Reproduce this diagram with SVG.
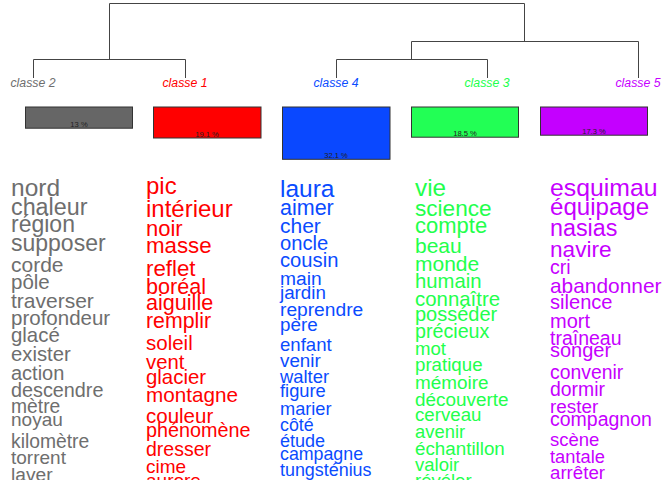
<svg xmlns="http://www.w3.org/2000/svg" width="672" height="480" viewBox="0 0 672 480">
<style>
text{font-family:"Liberation Sans",Arial,sans-serif}
.lbl{font-size:12.3px;font-style:italic;text-anchor:middle}
.pct{font-size:7.6px;text-anchor:middle;fill:#222}
.box{stroke:#333;stroke-width:1}
.c2{fill:#6e6e6e}.c1{fill:#ff0000}.c4{fill:#0a4bff}.c3{fill:#22ff4c}.c5{fill:#c600ff}
.tree{fill:none;stroke:#444;stroke-width:1}
</style>
<rect width="672" height="480" fill="#fff"/>
<g id="connectors" class="tree">
<path d="M33.5 78V59.5H185.5V78"/>
<path d="M109.5 59.5V3.5H524.5V41.5"/>
<path d="M336.5 78V59.5H487.5V78"/>
<path d="M411.5 59.5V41.5H638.5V78"/>
</g>
<g id="classe2">
<text class="lbl c2" x="33" y="87">classe  2</text>
<rect class="box" x="25.5" y="107" width="107" height="21.2" fill="#666"/>
<text class="pct" x="79" y="126.5">13 %</text>
<g class="c2">
<text x="11" y="196" font-size="24.5">nord</text>
<text x="11" y="215" font-size="23.3">chaleur</text>
<text x="11" y="232" font-size="23">région</text>
<text x="11" y="251" font-size="23">supposer</text>
<text x="11" y="272" font-size="21">corde</text>
<text x="11" y="289" font-size="20.5">pôle</text>
<text x="11" y="308" font-size="21">traverser</text>
<text x="11" y="325" font-size="20.5">profondeur</text>
<text x="11" y="342" font-size="20.4">glacé</text>
<text x="11" y="361" font-size="20.3">exister</text>
<text x="11" y="379.5" font-size="20">action</text>
<text x="11" y="396.5" font-size="19.8">descendre</text>
<text x="11" y="413.3" font-size="19.3">mètre</text>
<text x="11" y="426" font-size="19">noyau</text>
<text x="11" y="447.7" font-size="19.3">kilomètre</text>
<text x="11" y="464" font-size="19">torrent</text>
<text x="11" y="481" font-size="19.2">laver</text>
</g>
</g>
<g id="classe1">
<text class="lbl c1" x="185" y="87">classe  1</text>
<rect class="box" x="153.5" y="107" width="107.5" height="31" fill="#ff0000"/>
<text class="pct" x="207" y="136.5">19.1 %</text>
<g class="c1">
<text x="146" y="194" font-size="24">pic</text>
<text x="146" y="216.7" font-size="24">intérieur</text>
<text x="146" y="235.7" font-size="22">noir</text>
<text x="146" y="253.3" font-size="22.3">masse</text>
<text x="146" y="275.5" font-size="22.3">reflet</text>
<text x="146" y="293.5" font-size="21.6">boréal</text>
<text x="146" y="310" font-size="21.6">aiguille</text>
<text x="146" y="327.5" font-size="21.3">remplir</text>
<text x="146" y="349.5" font-size="20.5">soleil</text>
<text x="146" y="368.5" font-size="20.3">vent</text>
<text x="146" y="384" font-size="20.4">glacier</text>
<text x="146" y="402" font-size="20.7">montagne</text>
<text x="146" y="422.5" font-size="20.5">couleur</text>
<text x="146" y="437" font-size="19.8">phénomène</text>
<text x="146" y="456" font-size="19.5">dresser</text>
<text x="146" y="473" font-size="19">cime</text>
<text x="146" y="486.5" font-size="19">aurore</text>
</g>
</g>
<g id="classe4">
<text class="lbl c4" x="336" y="87">classe  4</text>
<rect class="box" x="282.5" y="107" width="107.5" height="52.3" fill="#0a48ff"/>
<text class="pct" x="336" y="157.5">32.1 %</text>
<g class="c4">
<text x="280" y="196.7" font-size="24.5">laura</text>
<text x="280" y="214.5" font-size="21.5">aimer</text>
<text x="280" y="232.7" font-size="21">cher</text>
<text x="280" y="249.5" font-size="20.2">oncle</text>
<text x="280" y="267" font-size="20.2">cousin</text>
<text x="280" y="285" font-size="19.2">main</text>
<text x="280" y="298.8" font-size="18.8">jardin</text>
<text x="280" y="315.5" font-size="19.2">reprendre</text>
<text x="280" y="331.2" font-size="18.8">père</text>
<text x="280" y="350.5" font-size="18.6">enfant</text>
<text x="280" y="367" font-size="18.8">venir</text>
<text x="280" y="383" font-size="18.4">walter</text>
<text x="280" y="396.5" font-size="18.3">figure</text>
<text x="280" y="415" font-size="18.2">marier</text>
<text x="280" y="430.5" font-size="17.8">côté</text>
<text x="280" y="447" font-size="18">étude</text>
<text x="280" y="459.5" font-size="17.8">campagne</text>
<text x="280" y="476" font-size="17.9">tungsténius</text>
</g>
</g>
<g id="classe3">
<text class="lbl c3" x="487" y="87">classe  3</text>
<rect class="box" x="411.5" y="107" width="107" height="30.2" fill="#22ff55"/>
<text class="pct" x="465" y="135.5">18.5 %</text>
<g class="c3">
<text x="415" y="196" font-size="24.3">vie</text>
<text x="415" y="215.5" font-size="22.6">science</text>
<text x="415" y="232.7" font-size="22">compte</text>
<text x="415" y="252.7" font-size="21">beau</text>
<text x="415" y="271" font-size="21">monde</text>
<text x="415" y="288" font-size="20.3">humain</text>
<text x="415" y="306" font-size="20.4">connaître</text>
<text x="415" y="321" font-size="20">posséder</text>
<text x="415" y="337.5" font-size="19.7">précieux</text>
<text x="415" y="355" font-size="18.6">mot</text>
<text x="415" y="370.5" font-size="18.7">pratique</text>
<text x="415" y="389" font-size="18.9">mémoire</text>
<text x="415" y="406" font-size="18.9">découverte</text>
<text x="415" y="421" font-size="18.7">cerveau</text>
<text x="415" y="438.3" font-size="18.4">avenir</text>
<text x="415" y="455" font-size="18.8">échantillon</text>
<text x="415" y="471" font-size="18.5">valoir</text>
<text x="415" y="487" font-size="18.5">révéler</text>
</g>
</g>
<g id="classe5">
<text class="lbl c5" x="638" y="87">classe  5</text>
<rect class="box" x="540.5" y="107" width="107" height="28.2" fill="#c400ff"/>
<text class="pct" x="594" y="133.5">17.3 %</text>
<g class="c5">
<text x="550" y="196" font-size="24.8">esquimau</text>
<text x="550" y="215" font-size="24.1">équipage</text>
<text x="550" y="236" font-size="23.3">nasias</text>
<text x="550" y="256.7" font-size="22.6">navire</text>
<text x="550" y="274" font-size="19.6">cri</text>
<text x="550" y="292.7" font-size="20.9">abandonner</text>
<text x="550" y="309.3" font-size="20.1">silence</text>
<text x="550" y="328" font-size="20">mort</text>
<text x="550" y="344.5" font-size="19.5">traîneau</text>
<text x="550" y="357.2" font-size="20">songer</text>
<text x="550" y="379" font-size="19.4">convenir</text>
<text x="550" y="396" font-size="19.4">dormir</text>
<text x="550" y="412.7" font-size="18.9">rester</text>
<text x="550" y="425.5" font-size="19.5">compagnon</text>
<text x="550" y="446" font-size="18.5">scène</text>
<text x="550" y="462.7" font-size="18.3">tantale</text>
<text x="550" y="479" font-size="18.7">arrêter</text>
</g>
</g>
</svg>
